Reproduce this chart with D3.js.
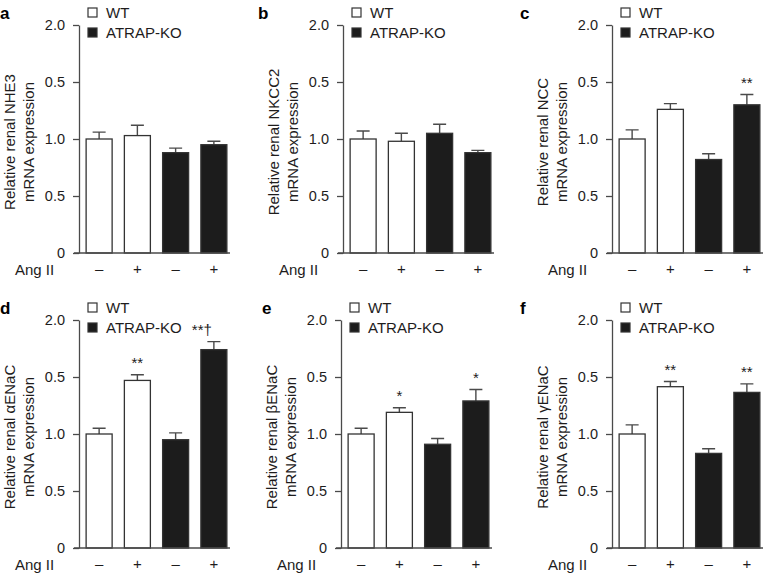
<!DOCTYPE html>
<html>
<head>
<meta charset="utf-8">
<script src="https://cdn.jsdelivr.net/npm/d3@7"></script>
<style>
  body { margin: 0; background: #fff; }
  svg { display: block; font-family: "Liberation Sans", Arial, Helvetica, sans-serif; }
</style>
</head>
<body>
<svg id="vis" width="768" height="573"></svg>
<script>
const svg = d3.select("#vis");

// data
const GROUPS = ["WT", "WT", "ATRAP-KO", "ATRAP-KO"];
const ANG2 = ["–", "+", "–", "+"];
const LETTERS = ["a", "b", "c", "d", "e", "f"];
const GENES = ["NHE3", "NKCC2", "NCC", "αENaC", "βENaC", "γENaC"];
const TICK_VALUES = [0, 0.5, 1.0, 1.5, 2.0];
const TICK_LABELS = ["0", "0.5", "1.0", "0.5", "2.0"]; // as printed in the original

const meanNHE3 = [1.00, 1.03, 0.88, 0.95];
const semNHE3 = [0.06, 0.09, 0.04, 0.03];
const meanNKCC2 = [1.00, 0.98, 1.05, 0.88];
const semNKCC2 = [0.07, 0.07, 0.08, 0.02];
const meanNCC = [1.00, 1.26, 0.82, 1.30];
const semNCC = [0.08, 0.05, 0.05, 0.09];
const meanAlpha = [1.00, 1.47, 0.95, 1.74];
const semAlpha = [0.05, 0.05, 0.06, 0.07];
const meanBeta = [1.00, 1.19, 0.91, 1.29];
const semBeta = [0.05, 0.04, 0.05, 0.10];
const meanGamma = [1.00, 1.415, 0.83, 1.365];
const semGamma = [0.08, 0.045, 0.04, 0.075];

const sigNHE3 = ["", "", "", ""];
const sigNKCC2 = ["", "", "", ""];
const sigNCC = ["", "", "", "**"];
const sigAlpha = ["", "**", "", "**†"];
const sigBeta = ["", "*", "", "*"];
const sigGamma = ["", "**", "", "**"];

const MEANS = [meanNHE3, meanNKCC2, meanNCC, meanAlpha, meanBeta, meanGamma];
const SEMS = [semNHE3, semNKCC2, semNCC, semAlpha, semBeta, semGamma];
const SIGS = [sigNHE3, sigNKCC2, sigNCC, sigAlpha, sigBeta, sigGamma];

// layout
const AXIS_X = [79, 343, 612, 79, 341, 612];
const ROW_TOP = [25, 320];
const PLOT_H = 228;
const TEXT = "#1e1c1c";
const LINE = "#4a4a4a";
const KO_FILL = "#1c1c1c";

function drawPanel(i) {
    const ax = AXIS_X[i];
    const top = ROW_TOP[Math.floor(i / 3)];
    const bottom = top + PLOT_H;
    const g = svg.append("g");

    const y = d3.scaleLinear().domain([0, 2]).range([bottom, top]);
    const x = d3.scaleBand().domain(d3.range(4))
        .range([ax + 1, ax + 154]).paddingInner(0.32).paddingOuter(0.16);

    const data = MEANS[i].map((m, k) => ({
        mean: m, sem: SEMS[i][k], sig: SIGS[i][k], group: GROUPS[k], ang: ANG2[k], k: k
    }));

    // y axis
    const yAxis = d3.axisLeft(y).tickValues(TICK_VALUES)
        .tickFormat((d, j) => TICK_LABELS[j])
        .tickSize(6).tickSizeOuter(0).tickPadding(8);
    const axG = g.append("g").attr("transform", `translate(${ax},0)`).call(yAxis);
    axG.select(".domain").attr("stroke", LINE).attr("stroke-width", 1.3);
    axG.selectAll(".tick line").attr("stroke", LINE).attr("stroke-width", 1.3);
    axG.selectAll(".tick text").attr("fill", TEXT)
        .style("font-size", "14.5px").style("font-family", "Liberation Sans, Arial, sans-serif");

    // error bars
    g.selectAll(".err").data(data).join("path")
        .attr("class", "err")
        .attr("fill", "none").attr("stroke", LINE).attr("stroke-width", 1.4)
        .attr("d", d => {
            const cx = x(d.k) + x.bandwidth() / 2;
            const yt = y(d.mean + d.sem);
            return `M${cx},${y(d.mean)}V${yt}M${cx - 6.5},${yt}H${cx + 6.5}`;
        });

    // bars
    g.selectAll(".bar").data(data).join("rect")
        .attr("class", "bar")
        .attr("x", d => x(d.k))
        .attr("y", d => y(d.mean))
        .attr("width", x.bandwidth())
        .attr("height", d => y(0) - y(d.mean))
        .attr("fill", d => d.group === "WT" ? "#fff" : KO_FILL)
        .attr("stroke", "#333").attr("stroke-width", 1.3);

    // baseline
    g.append("line")
        .attr("x1", ax - 5).attr("x2", ax + 151)
        .attr("y1", y(0)).attr("y2", y(0))
        .attr("stroke", LINE).attr("stroke-width", 1.3);

    // significance marks
    g.selectAll(".sig").data(data.filter(d => d.sig)).join("text")
        .attr("class", "sig")
        .attr("x", d => x(d.k) + x.bandwidth() / 2 + (d.sig.length > 2 ? -12 : 0))
        .attr("y", d => y(d.mean + d.sem) - 7)
        .attr("text-anchor", "middle")
        .attr("fill", TEXT)
        .style("font-size", "15px")
        .text(d => d.sig);

    // Ang II row
    g.append("text")
        .attr("x", ax - 64).attr("y", bottom + 22)
        .attr("fill", TEXT).style("font-size", "15px")
        .text("Ang II");
    g.selectAll(".ang").data(data).join("text")
        .attr("class", "ang")
        .attr("x", d => x(d.k) + x.bandwidth() / 2)
        .attr("y", bottom + 21)
        .attr("text-anchor", "middle")
        .attr("fill", TEXT).style("font-size", "15px")
        .text(d => d.ang);

    // y title
    const cy = (top + bottom) / 2 + 3;
    const title = g.append("text")
        .attr("transform", `translate(${ax - 64},${cy}) rotate(-90)`)
        .attr("text-anchor", "middle")
        .attr("fill", TEXT).style("font-size", "15px");
    title.append("tspan").attr("x", 0).attr("y", 0).text("Relative renal " + GENES[i]);
    title.append("tspan").attr("x", 0).attr("y", 18.5).text("mRNA expression");

    // legend
    const legend = [["WT", "#fff"], ["ATRAP-KO", KO_FILL]];
    legend.forEach((l, j) => {
        const ly = top - 17 + j * 20;
        g.append("rect")
            .attr("x", ax + 9).attr("y", ly)
            .attr("width", 9).attr("height", 9)
            .attr("fill", l[1]).attr("stroke", "#333").attr("stroke-width", 1.2);
        g.append("text")
            .attr("x", ax + 27).attr("y", ly + 9.5)
            .attr("fill", TEXT).style("font-size", "15px")
            .text(l[0]);
    });

    // panel letter
    const lx = [0, 258, 520, 0, 262, 520][i];
    g.append("text")
        .attr("x", lx).attr("y", top - 6)
        .attr("fill", "#000").style("font-size", "17px").style("font-weight", "bold")
        .text(LETTERS[i]);
}

d3.range(6).forEach(drawPanel);
</script>
</body>
</html>
